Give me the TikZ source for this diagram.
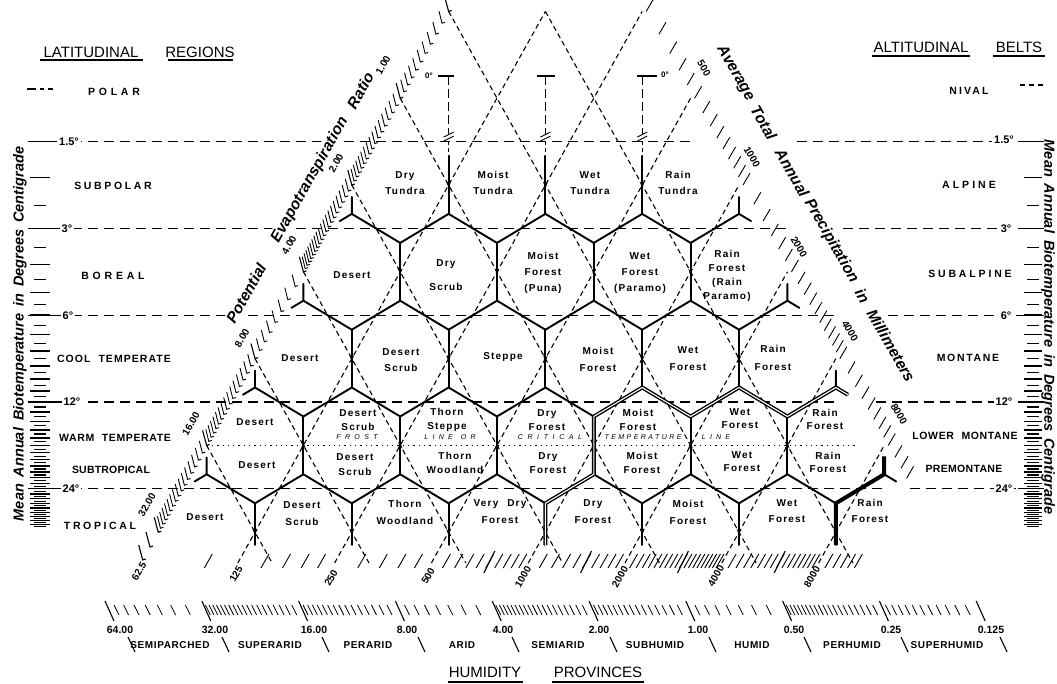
\documentclass[tikz,border=0pt]{standalone}
\usepackage{fontspec}
\setmainfont{Liberation Sans}
\usetikzlibrary{arrows.meta,calc}
\begin{document}
\begin{tikzpicture}[x=1pt,y=-1pt,
  hexedge/.style={line width=1.9pt,line cap=round,line join=round},
  latt/.style={line width=1.1pt,dash pattern=on 5pt off 3.5pt},
  templine/.style={line width=1.3pt,dash pattern=on 10pt off 6pt},
  tk/.style={line width=0.9pt},
  arr/.style={-{Stealth[length=6pt,width=4.5pt]},line width=1.2pt},
  hexlab/.style={font=\fontsize{10}{#1}\selectfont\bfseries\addfontfeature{LetterSpace=12},align=center,inner sep=0pt},
  hexlab/.default=16,
  region/.style={font=\fontsize{10.5}{12}\selectfont\bfseries\addfontfeature{LetterSpace=#1},inner sep=0pt},
  ttl/.style={font=\fontsize{15}{18}\selectfont,inner sep=0pt},
  deg/.style={font=\fontsize{11}{12}\selectfont\bfseries,fill=white,inner sep=2pt},
  axt/.style={font=\fontsize{15.5}{18}\selectfont\bfseries\itshape,inner sep=1.5pt,fill=white},
  vax/.style={font=\fontsize{14.5}{18}\selectfont\bfseries\itshape,inner sep=0pt},
  num/.style={font=\fontsize{10}{12}\selectfont\bfseries,inner sep=0pt},
  hnum/.style={font=\fontsize{10.5}{12}\selectfont\bfseries,inner sep=0pt},
  hname/.style={font=\fontsize{10}{12}\selectfont\bfseries\addfontfeature{LetterSpace=6},inner sep=0pt},
  frost/.style={font=\fontsize{7}{8}\selectfont\itshape\addfontfeature{LetterSpace=#1},inner sep=0pt},
  zdeg/.style={font=\fontsize{8}{9}\selectfont\bfseries,inner sep=0pt},
]
\useasboundingbox (0,0) rectangle (1057,684);

% ---------- lattice coordinates ----------
\foreach \ia in {0,...,9}{\foreach \ib in {-1,...,6}{
  \pgfmathsetmacro\px{158.2+96.8*\ia+48.4*(\ib)}
  \pgfmathsetmacro\py{532.2-86.8*(\ib)}
  \coordinate (m-\ia-\ib) at (\px,\py);
  \coordinate (t-\ia-\ib) at (\px,\py-28.9);
  \coordinate (d-\ia-\ib) at (\px,\py+28.9);
}}

% ---------- dashed lattice lines ----------
\foreach \ia in {1,...,7}{
  \pgfmathsetmacro\xb{141.0+96.8*\ia}
  \pgfmathtruncatemacro\bt{min(6,8-\ia)}
  \draw[latt] (\xb,563) -- (m-\ia-\bt);
}
\foreach \ic in {1,...,7}{
  \pgfmathsetmacro\xb{175.4+96.8*\ic}
  \pgfmathtruncatemacro\as{max(0,\ic-6)}
  \pgfmathtruncatemacro\bs{\ic-\as}
  \draw[latt] (m-\as-\bs) -- (\xb,563);
}

% ---------- temperature lines ----------
\foreach \yy/\ga/\gb in {141.5/690/797, 228.5/787/843, 315.5/838/888, 402/835/876, 488.5/885/910}{
  \draw[templine] (56,\yy) -- (\ga,\yy);
  \draw[templine] (\gb,\yy) -- (1018,\yy);
  \draw[line width=1.4pt] (28,\yy) -- (56,\yy);
  \draw[line width=1.4pt] (1018,\yy) -- (1044,\yy);
}
\draw[line width=1.3pt,dash pattern=on 1.3pt off 4pt] (m-0-1) -- ($(m-7-1)+(-27,0)$);
\draw[line width=1.3pt,dash pattern=on 9pt off 4pt on 4pt off 4pt] (27,89) -- (53,89);
\draw[line width=1.3pt,dash pattern=on 5pt off 4pt] (1020,85) -- (1046,85);

% ---------- hexagon edges ----------
\foreach \ib in {1,...,4}{
  \pgfmathtruncatemacro\amax{7-\ib}
  \pgfmathtruncatemacro\bm{\ib-1}
  \pgfmathtruncatemacro\ar{8-\ib}
  \pgfmathtruncatemacro\arp{9-\ib}
  \foreach \ia in {1,...,\amax}{
    \pgfmathtruncatemacro\an{\ia+1}
    \draw[hexedge] (t-\ia-\ib) -- (d-\ia-\ib);
    \draw[hexedge] (t-\ia-\bm) -- (d-\ia-\ib) -- (t-\an-\bm);
  }
  \draw[hexedge] ($(m-0-\ib)+(0,12)$) -- (d-0-\ib) -- (t-1-\bm);
  \draw[hexedge] (d-0-\ib) -- ($(d-0-\ib)!14pt!(t-0-\bm)$);
  \draw[hexedge] ($(m-\ar-\ib)+(0,12)$) -- (d-\ar-\ib) -- (t-\ar-\bm);
  \draw[hexedge] (d-\ar-\ib) -- ($(d-\ar-\ib)!14pt!(t-\arp-\bm)$);
}
\foreach \ia in {1,...,7}{
  \draw[hexedge] (t-\ia-0) -- ($(m-\ia-0)+(0,12.8)$);
}
% arrow marks at crossings
\foreach \ib in {0,2,3,4}{
  \pgfmathtruncatemacro\amax{7-\ib}
  \foreach \ia in {1,...,\amax}{
    \draw[arr] ($(m-\ia-\ib)+(0,-9)$) -- ($(m-\ia-\ib)+(0,3)$);
  }
}
\foreach \ia in {1,...,6}{
  \draw[arr] ($(m-\ia-1)+(0,9)$) -- ($(m-\ia-1)+(0,-3)$);
}

% ---------- heavy boundaries ----------
\draw[line width=1.4pt,double=white,double distance=1.1pt,line join=miter]
  ($(m-4-0)+(0,12.8)$) -- (t-4-0) -- (d-4-1) -- (t-4-1) -- (d-4-2) -- (t-5-1)
  -- (d-5-2) -- (t-6-1) -- (d-6-2) -- ($(d-6-2)!14pt!(t-7-1)$);
\draw[line width=4pt,line join=miter] ($(m-7-0)+(0,12.8)$) -- (t-7-0) -- (d-7-1) -- ($(m-7-1)+(0,11)$);

% ---------- tundra extensions to 0 degrees ----------
\foreach \ia/\dl/\dr in {1/-11/5, 2/-8/10, 3/-5/15}{
  \draw[line width=1.1pt,dash pattern=on 9pt off 4pt] ($(t-\ia-4)+(0,-80)$) -- ($(t-\ia-4)+(0,-22)$);
  \draw[line width=1.1pt,dash pattern=on 4pt off 3pt] ($(t-\ia-4)+(0,-15)$) -- (t-\ia-4);
  \draw[line width=1.4pt] ($(t-\ia-4)+(\dl,-80)$) -- ($(t-\ia-4)+(\dr,-80)$);
  \draw[line width=0.9pt] ($(t-\ia-4)+(-5,-15)$) -- ++(10,-5);
  \draw[line width=0.9pt] ($(t-\ia-4)+(-5,-19)$) -- ++(10,-5);
}
\node[zdeg] (z1) at (429,76) {0°};
\node[zdeg] (z3) at (665,75) {0°};

% ---------- PET axis ticks (left side) ----------
\foreach \lo/\nn in {16/16,8/16,4/8,2/20,1/16,0.5/10}{
  \pgfmathtruncatemacro\nm{\nn-1}
  \foreach \kk in {1,...,\nm}{
    \pgfmathsetmacro\bb{ln(32/(\lo*(1+\kk/\nn)))/ln(2)}
    \draw[tk] ({158.2+48.4*(\bb)-3},{532.2-86.8*(\bb)-12}) -- ({158.2+48.4*(\bb)},{532.2-86.8*(\bb)}) -- ++(3,-1);
  }
}
\foreach \bb in {-0.32,-0.17,0,1,2,3,4,5,6}{
  \draw[tk,line width=1.1pt] ({158.2+48.4*(\bb)-4},{532.2-86.8*(\bb)-15}) -- ({158.2+48.4*(\bb)},{532.2-86.8*(\bb)}) -- ++(3,-1);
}

% ---------- precipitation axis ticks (right side) ----------
\foreach \lo/\nn/\kmax in {250/5/4,500/8/7,1000/6/5,2000/10/9,4000/8/7,8000/10/3}{
  \foreach \kk in {0,...,\kmax}{
    \pgfmathsetmacro\bb{8-ln(\lo*(1+\kk/\nn)/62.5)/ln(2)}
    \draw[tk] ({932.6-48.4*(\bb)+4},{532.2-86.8*(\bb)}) -- ++(7,-12);
  }
}

% ---------- precipitation ticks (bottom) ----------
\draw[tk] (204.3,568) -- (212.3,554);
\foreach \lo/\nn/\kmax in {125/5/4,250/5/4,500/10/9,1000/10/9,2000/20/19,4000/16/15,8000/16/5}{
  \foreach \kk in {1,...,\kmax}{
    \pgfmathsetmacro\xx{142.7+96.8*ln(\lo*(1+\kk/\nn)/62.5)/ln(2)}
    \draw[tk] (\xx-4,568) -- (\xx+4,554);
  }
}
\foreach \lo in {500,1000,2000,4000}{
  \pgfmathsetmacro\xx{142.7+96.8*ln(\lo*1.5/62.5)/ln(2)}
  \draw[tk,line width=1.1pt] (\xx-6,573) -- (\xx+5,551);
}

% ---------- humidity scale ----------
\foreach \lo/\nn in {32/8,16/20,8/16,4/8,2/20,1/16,0.5/8,0.25/20,0.125/12}{
  \pgfmathtruncatemacro\nm{\nn-1}
  \foreach \kk in {1,...,\nm}{
    \pgfmathsetmacro\xx{105+96.8*ln(64/(\lo*(1+\kk/\nn)))/ln(2)}
    \draw[tk,line width=0.8pt] (\xx,605) -- (\xx+5,615);
  }
}
\foreach \n in {0,...,9}{
  \draw[tk,line width=1.1pt] ({105+96.8*\n},601) -- ++(9,20);
}
\foreach \xx in {128,222,322,418,512,610,709,804,901,1000}{
  \draw[line width=1.1pt] (\xx,637) -- (\xx+7,652);
}

% ---------- temperature scale ticks ----------
\foreach \T in {2,...,32}{
  \pgfmathsetmacro\yy{141.5+86.8*ln(\T/1.5)/ln(2)}
  \draw[line width=1.3pt] (30,\yy) -- (50,\yy);
  \draw[line width=1.3pt] (1024,\yy) -- (1042,\yy);
}
\foreach \T in {2.5,3.5,...,32.5}{
  \pgfmathsetmacro\yy{141.5+86.8*ln(\T/1.5)/ln(2)}
  \draw[line width=1.1pt] (34,\yy) -- (46,\yy);
  \draw[line width=1.1pt] (1027,\yy) -- (1039,\yy);
}

% ---------- titles ----------
\node[ttl] (t-lat) at (91,52) {LATITUDINAL};
\node[ttl] (t-reg) at (200,52) {REGIONS};
\node[ttl] (t-alt) at (921,47) {ALTITUDINAL};
\node[ttl] (t-belts) at (1019,47) {BELTS};
\node[ttl] (t-hum) at (485,672) {HUMIDITY};
\node[ttl] (t-prov) at (598,672) {PROVINCES};
\draw[line width=1.5pt] (40,60) -- (143,60) (168,60) -- (233,60);
\draw[line width=1.5pt] (872,56) -- (970,56) (993,56) -- (1045,56);
\draw[line width=1.3pt] (448,682) -- (523,682) (552,682) -- (644,682);

% ---------- region names ----------
\node[region=36] (r-polar) at (114,92) {POLAR};
\node[region=25] (r-subpolar) at (113,186) {SUBPOLAR};
\node[region=36] (r-boreal) at (113,276) {BOREAL};
\node[region=10] (r-cool) at (114,359) {COOL\hspace{4pt} TEMPERATE};
\node[region=6] (r-warm) at (115,438) {WARM\hspace{4pt} TEMPERATE};
\node[region=2] (r-subtrop) at (111,470) {SUBTROPICAL};
\node[region=25] (r-trop) at (100,526) {TROPICAL};
\node[region=20] (a-nival) at (969,91) {NIVAL};
\node[region=29] (a-alpine) at (969,185) {ALPINE};
\node[region=27] (a-subalp) at (970,274) {SUBALPINE};
\node[region=16] (a-mont) at (968,358) {MONTANE};
\node[region=6] (a-lm) at (965,436) {LOWER\hspace{4pt} MONTANE};
\node[region=3] (a-pm) at (964,469) {PREMONTANE};

% ---------- temperature labels ----------
\node[deg] (dl1) at (69,141.5) {1.5°};
\node[deg] (dl2) at (67,228.5) {3°};
\node[deg] (dl3) at (68,315.5) {6°};
\node[deg] (dl4) at (72,402) {12°};
\node[deg] (dl5) at (71,488.5) {24°};
\node[deg] (dr1) at (1004,140) {1.5°};
\node[deg] (dr2) at (1006,228.5) {3°};
\node[deg] (dr3) at (1006,315.5) {6°};
\node[deg] (dr4) at (1004,402) {12°};
\node[deg] (dr5) at (1004,488.5) {24°};

% ---------- axis titles ----------
\path (230,322) -- (370,73)
  node[axt,pos=0.115,sloped] (pt1) {Potential}
  node[axt,pos=0.57,sloped] (pt2) {Evapotranspiration}
  node[axt,pos=0.93,sloped] (pt3) {Ratio};
\path (722,50) -- (912,382)
  node[axt,pos=0.07,sloped] (pr1) {Average}
  node[axt,pos=0.22,sloped] (pr2) {Total}
  node[axt,pos=0.37,sloped] (pr3) {Annual}
  node[axt,pos=0.575,sloped] (pr4) {Precipitation}
  node[axt,pos=0.74,sloped] (pr5) {in}
  node[axt,pos=0.89,sloped] (pr6) {Millimeters};
\node[vax,rotate=90] (vl) at (20,334) {\spaceskip=7pt Mean Annual Biotemperature in Degrees Centigrade};
\node[vax,rotate=-90] (vr) at (1048,327) {\spaceskip=7pt Mean Annual Biotemperature in Degrees Centigrade};

% ---------- axis numbers ----------
\node[num,rotate=60] (e1) at (383,65) {1.00};
\node[num,rotate=60] (e2) at (336,163) {2.00};
\node[num,rotate=60] (e4) at (289,245) {4.00};
\node[num,rotate=60] (e8) at (242,338) {8.00};
\node[num,rotate=60] (e16) at (191,424) {16.00};
\node[num,rotate=60] (e32) at (147,505) {32.00};
\node[num,rotate=-60] (q500) at (704,68) {500};
\node[num,rotate=-60] (q1000) at (752,157) {1000};
\node[num,rotate=-60] (q2000) at (799,247) {2000};
\node[num,rotate=-60] (q4000) at (850,331) {4000};
\node[num,rotate=-60] (q8000) at (899,414) {8000};
\node[num,rotate=60] (b62) at (139,571) {62.5};
\node[num,rotate=60] (b125) at (236,574) {125};
\node[num,rotate=60] (b250) at (331,578) {250};
\node[num,rotate=60] (b500) at (428,576) {500};
\node[num,rotate=60] (b1000) at (523,577) {1000};
\node[num,rotate=60] (b2000) at (620,577) {2000};
\node[num,rotate=60] (b4000) at (716,576) {4000};
\node[num,rotate=60] (b8000) at (812,577) {8000};

% ---------- humidity provinces ----------
\foreach \xx/\tx [count=\i] in {120/64.00,215/32.00,314/16.00,407/8.00,503/4.00,599/2.00,698/1.00,794/0.50,891/0.25,991/0.125}{
  \node[hnum] (hn\i) at (\xx,630) {\tx};
}
\foreach \xx/\tx [count=\i] in {170/SEMIPARCHED,270/SUPERARID,368/PERARID,462/ARID,558/SEMIARID,655/SUBHUMID,752/HUMID,852/PERHUMID,947/SUPERHUMID}{
  \node[hname] (hp\i) at (\xx,645) {\tx};
}

% ---------- frost line words ----------
\node[frost=62] (f1) at (357,437) {FROST};
\node[frost=62] (f2) at (450,437) {LINE\hspace{8pt}OR};
\node[frost=66] (f3) at (550,437) {CRITICAL};
\node[frost=35] (f4) at (643,437) {TEMPERATURE};
\node[frost=60] (f5) at (716,437) {LINE};

% ---------- life zone names ----------
\node[hexlab] (h-dt) at (405,183) {Dry\\Tundra};
\node[hexlab] (h-mt) at (493,183) {Moist\\Tundra};
\node[hexlab] (h-wt) at (590,183) {Wet\\Tundra};
\node[hexlab] (h-rt) at (678,183) {Rain\\Tundra};
\node[hexlab] (h-bd) at (352,275) {Desert};
\node[hexlab=24] (h-bds) at (446,275) {Dry\\Scrub};
\node[hexlab] (h-bmf) at (543,273) {Moist\\Forest\\(Puna)};
\node[hexlab] (h-bwf) at (640,273) {Wet\\Forest\\(Paramo)};
\node[hexlab=14] (h-brf) at (727,276) {Rain\\Forest\\(Rain\\Paramo)};
\node[hexlab] (h-cd) at (300,358) {Desert};
\node[hexlab] (h-cds) at (401,360) {Desert\\Scrub};
\node[hexlab] (h-cs) at (503,357) {Steppe};
\node[hexlab=17] (h-cmf) at (598,359) {Moist\\Forest};
\node[hexlab=17] (h-cwf) at (688,359) {Wet\\Forest};
\node[hexlab=18] (h-crf) at (773,358) {Rain\\Forest};
\node[hexlab] (w-d) at (255,422) {Desert};
\node[hexlab=14] (w-ds) at (358,420) {Desert\\Scrub};
\node[hexlab=14] (w-ts) at (447,420) {Thorn\\Steppe};
\node[hexlab=14] (w-df) at (547,420) {Dry\\Forest};
\node[hexlab=14] (w-mf) at (638,420) {Moist\\Forest};
\node[hexlab=13] (w-wf) at (740,419) {Wet\\Forest};
\node[hexlab=13] (w-rf) at (825,419) {Rain\\Forest};
\node[hexlab] (s-d) at (257,465) {Desert};
\node[hexlab=15] (s-ds) at (355,465) {Desert\\Scrub};
\node[hexlab=14] (s-tw) at (455,463) {Thorn\\Woodland};
\node[hexlab=14] (s-df) at (548,463) {Dry\\Forest};
\node[hexlab=14] (s-mf) at (642,463) {Moist\\Forest};
\node[hexlab=13] (s-wf) at (742,462) {Wet\\Forest};
\node[hexlab=13] (s-rf) at (828,462) {Rain\\Forest};
\node[hexlab] (p-d) at (205,517) {Desert};
\node[hexlab=17] (p-ds) at (302,514) {Desert\\Scrub};
\node[hexlab=17] (p-tw) at (405,512) {Thorn\\Woodland};
\node[hexlab=17] (p-vdf) at (500,512) {Very\hspace{5pt} Dry\\Forest};
\node[hexlab=17] (p-df) at (593,512) {Dry\\Forest};
\node[hexlab=17] (p-mf) at (688,512) {Moist\\Forest};
\node[hexlab=16] (p-wf) at (787,511) {Wet\\Forest};
\node[hexlab=16] (p-rf) at (870,511) {Rain\\Forest};
\end{tikzpicture}
\end{document}
